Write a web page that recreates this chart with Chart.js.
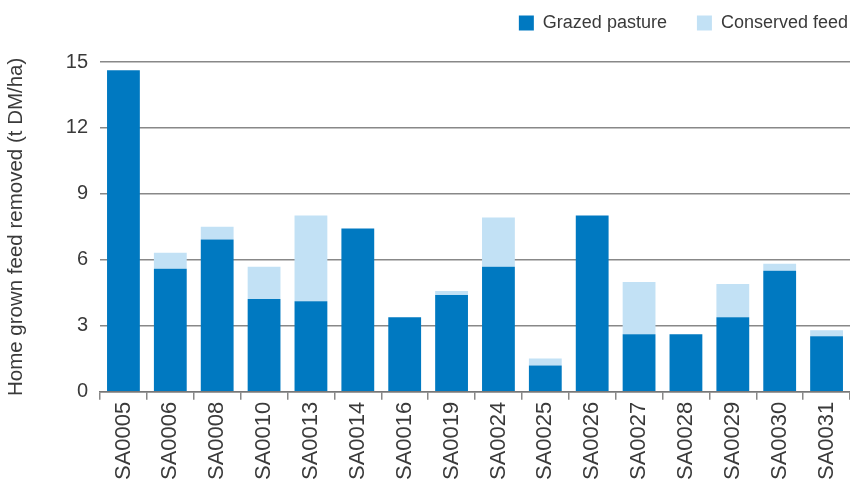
<!DOCTYPE html>
<html lang="en">
<head>
    <meta charset="UTF-8">
    <title>Home grown feed removed</title>
    <script src="https://cdn.jsdelivr.net/npm/chart.js"></script>
    <style>
        body {
            margin: 0;
            background: #fff;
        }
        #wrap {
            width: 850px;
            height: 484px;
        }
    </style>
</head>
<body>

<div id="wrap"><canvas id="myChart"></canvas></div>

<script>
    // farms on the x axis
    const farms = ['SA0005', 'SA0006', 'SA0008', 'SA0010', 'SA0013', 'SA0014', 'SA0016', 'SA0019',
                   'SA0024', 'SA0025', 'SA0026', 'SA0027', 'SA0028', 'SA0029', 'SA0030', 'SA0031'];

    // t DM/ha
    const grazedPasture = [14.62, 5.59, 6.92, 4.22, 4.12, 7.42, 3.39, 4.40,
                           5.68, 1.19, 8.02, 2.61, 2.61, 3.39, 5.50, 2.52];
    const conservedFeed = [0, 0.73, 0.59, 1.46, 3.90, 0, 0, 0.18,
                           2.25, 0.32, 0, 2.38, 0, 1.51, 0.32, 0.28];

    const yTicks = [0, 3, 6, 9, 12, 15];

    const textColor = '#3a3a3a';
    const fontFamily = '"Liberation Sans", Arial, sans-serif';

    Chart.defaults.font.family = fontFamily;
    Chart.defaults.color = textColor;

    // nudge the legend up and to the right, after the plot area is laid out
    const legendShift = {
        id: 'legendShift',
        afterLayout(chart) {
            const lg = chart.legend;
            lg.left += 28;
            lg.right += 28;
            lg.top -= 20;
            lg.bottom -= 20;
        }
    };

    const ctx = document.getElementById('myChart').getContext('2d');

    new Chart(ctx, {
        type: 'bar',
        data: {
            labels: farms,
            datasets: [{
                label: 'Grazed pasture',
                data: grazedPasture,
                backgroundColor: '#0079c1',
                barPercentage: 0.7,
                categoryPercentage: 1.0
            }, {
                label: 'Conserved feed',
                data: conservedFeed,
                backgroundColor: '#c2e1f5',
                barPercentage: 0.7,
                categoryPercentage: 1.0
            }]
        },
        options: {
            responsive: true,
            maintainAspectRatio: false,
            animation: false,
            layout: {
                padding: { left: 4, right: 0, top: 4, bottom: 2 }
            },
            plugins: {
                legend: {
                    position: 'top',
                    align: 'end',
                    labels: {
                        boxWidth: 15,
                        boxHeight: 15,
                        padding: 30,
                        color: textColor,
                        font: { size: 18 }
                    }
                },
                tooltip: { enabled: false }
            },
            scales: {
                x: {
                    stacked: true,
                    afterFit: function (axis) {
                        // let the plot run to the right edge
                        axis.paddingRight = 0;
                    },
                    border: { color: '#777', width: 1.5 },
                    grid: {
                        offset: true,
                        drawOnChartArea: false,
                        drawTicks: true,
                        tickLength: 8,
                        color: '#888',
                        lineWidth: 1.5
                    },
                    ticks: {
                        minRotation: 90,
                        maxRotation: 90,
                        padding: 2,
                        color: textColor,
                        font: { size: 22 }
                    }
                },
                y: {
                    stacked: true,
                    min: 0,
                    max: 15,
                    afterBuildTicks: function (axis) {
                        axis.ticks = yTicks.map(v => ({ value: v }));
                    },
                    afterFit: function (axis) {
                        axis.width = 96;
                    },
                    border: { display: false },
                    grid: {
                        color: '#888',
                        lineWidth: 1.5,
                        drawTicks: false
                    },
                    ticks: {
                        padding: 12,
                        color: textColor,
                        font: { size: 20 }
                    },
                    title: {
                        display: true,
                        text: 'Home grown feed removed (t DM/ha)',
                        color: textColor,
                        font: { size: 20.5 },
                        padding: { top: 0, bottom: 0 }
                    }
                }
            }
        },
        plugins: [legendShift]
    });
</script>

</body>
</html>
